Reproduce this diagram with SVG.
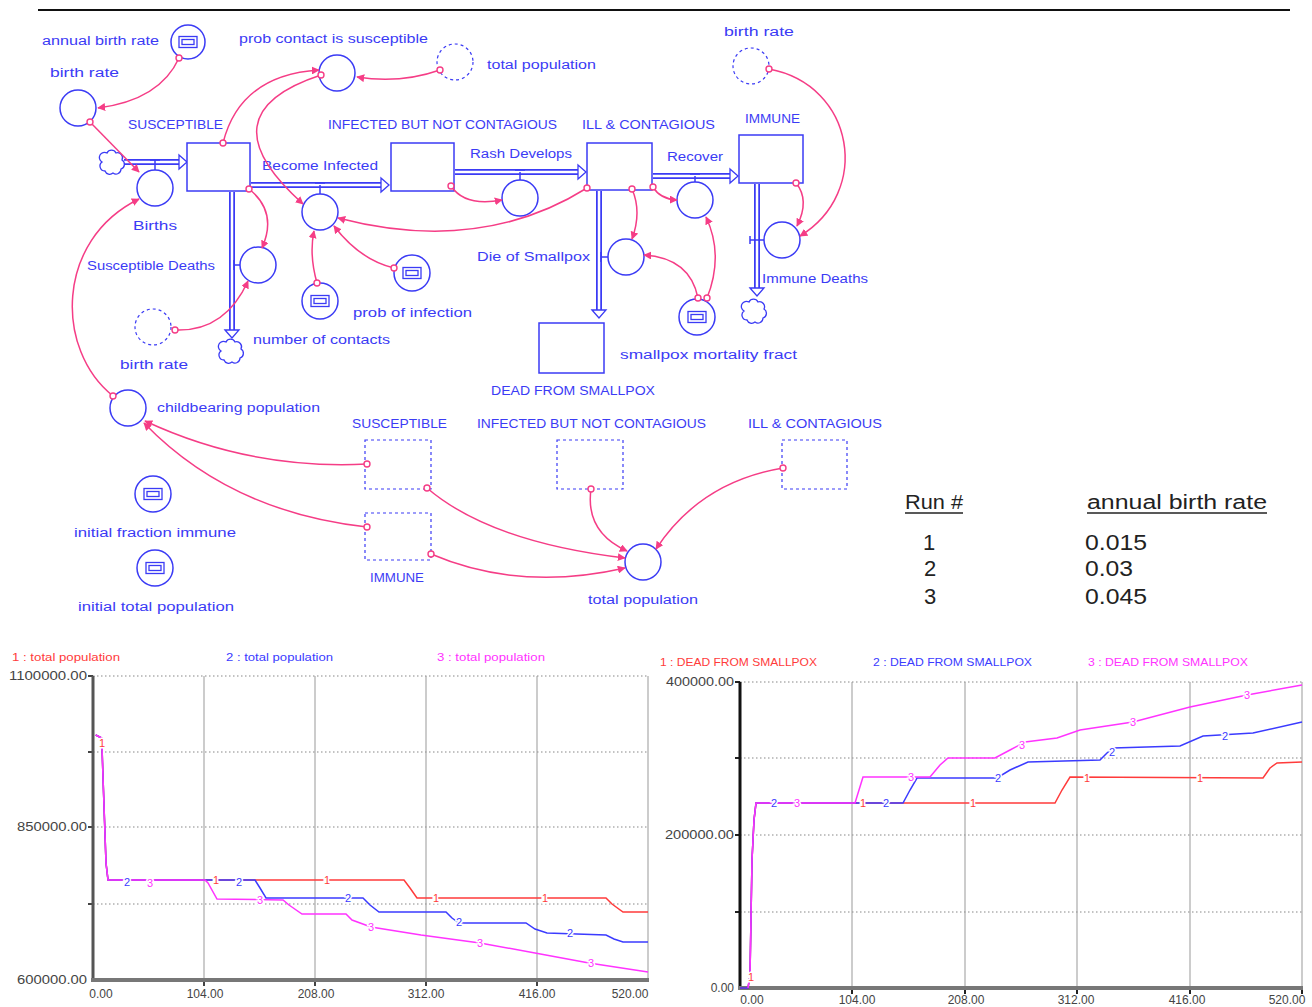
<svg xmlns="http://www.w3.org/2000/svg" width="1312" height="1007" viewBox="0 0 1312 1007">
<defs>
<style>
.lbl{font-family:"Liberation Sans",Arial,sans-serif;font-size:12.5px;fill:#3b3bf5}
.stock{fill:#fff;stroke:#3b3bf5;stroke-width:1.5}
.ghost{fill:none;stroke:#3b3bf5;stroke-width:1.2;stroke-dasharray:3,3}
.conv{fill:#fff;stroke:#3b3bf5;stroke-width:1.5}
.icon{fill:none;stroke:#3b3bf5;stroke-width:1.3}
.pipeo{fill:none;stroke:#3b3bf5;stroke-width:6}
.pipei{fill:none;stroke:#fff;stroke-width:2.5}
.valve{fill:none;stroke:#3b3bf5;stroke-width:1.5}
.fa{fill:#fff;stroke:#3b3bf5;stroke-width:1.3}
.cloud{fill:#fff;stroke:#3b3bf5;stroke-width:1.3}
.link{fill:none;stroke:#f53d86;stroke-width:1.5;marker-end:url(#ah)}
.orig{fill:#fff;stroke:#f53d86;stroke-width:1.4}
.grid{stroke:#999;stroke-width:1}
.dot{stroke:#888;stroke-width:1.2;stroke-dasharray:1.5,2.5}
.ax{font-family:"Liberation Sans",Arial,sans-serif;font-size:12px;fill:#444}
.ttl{font-family:"Liberation Sans",Arial,sans-serif;font-size:11px}
.cl{font-family:"Liberation Sans",Arial,sans-serif;font-size:11px;text-anchor:middle;stroke:#fff;stroke-width:3;paint-order:stroke}
.tab{font-family:"Liberation Sans",Arial,sans-serif;fill:#222}
.r1{stroke:#ff3b3b;fill:none;stroke-width:1.5}
.r2{stroke:#3b3bff;fill:none;stroke-width:1.5}
.r3{stroke:#ff33ff;fill:none;stroke-width:1.5}
.t1{fill:#ff3b3b}.t2{fill:#3b3bff}.t3{fill:#ff33ff}
</style>
<marker id="ah" viewBox="0 0 10 10" refX="9" refY="5" markerWidth="8" markerHeight="8" orient="auto" markerUnits="userSpaceOnUse">
<path d="M0,0 L10,5 L0,10 z" fill="#f53d86"/>
</marker>
<path id="cloudp" d="M-6,-10 a5,5 0 0,1 9,0 a5,5 0 0,1 6,7 a5,5 0 0,1 -1,9 a5,5 0 0,1 -8,4 a5,5 0 0,1 -8,-2 a5,5 0 0,1 -3,-9 a5,5 0 0,1 5,-9 z"/>
<g id="icon"><rect x="-9" y="-5.5" width="18" height="11" class="icon"/><rect x="-6" y="-2.5" width="12" height="5" class="icon"/></g>
</defs>
<rect width="1312" height="1007" fill="#fff"/>
<line x1="38" y1="10" x2="1290" y2="10" stroke="#111" stroke-width="2"/>

<!-- flows (pipes) -->
<g id="flows">
<path class="pipeo" d="M124,162 H181"/><path class="pipei" d="M124,162 H181"/>
<polygon class="fa" points="179,155 187,162 179,169"/>
<path class="pipeo" d="M251,185 H383"/><path class="pipei" d="M251,185 H383"/>
<polygon class="fa" points="381,178 389,185 381,192"/>
<path class="pipeo" d="M455,172 H580"/><path class="pipei" d="M455,172 H580"/>
<polygon class="fa" points="578,165 586,172 578,179"/>
<path class="pipeo" d="M653,176 H732"/><path class="pipei" d="M653,176 H732"/>
<polygon class="fa" points="730,169 738,176 730,183"/>
<path class="pipeo" d="M232,192 V332"/><path class="pipei" d="M232,192 V332"/>
<polygon class="fa" points="225,330 232,338 239,330"/>
<path class="pipeo" d="M599,191 V312"/><path class="pipei" d="M599,191 V312"/>
<polygon class="fa" points="592,310 599,318 606,310"/>
<path class="pipeo" d="M757,184 V290"/><path class="pipei" d="M757,184 V290"/>
<polygon class="fa" points="750,288 757,296 764,288"/>
</g>

<!-- stocks -->
<g id="susceptible"><rect class="stock" x="187" y="143" width="63" height="48"/><text class="lbl" x="128" y="129" textLength="95" lengthAdjust="spacingAndGlyphs">SUSCEPTIBLE</text></g>
<g id="infected"><rect class="stock" x="391" y="143" width="63" height="48"/><text class="lbl" x="328" y="129" textLength="229" lengthAdjust="spacingAndGlyphs">INFECTED BUT NOT CONTAGIOUS</text></g>
<g id="ill"><rect class="stock" x="587" y="143" width="65" height="47"/><text class="lbl" x="582" y="129" textLength="133" lengthAdjust="spacingAndGlyphs">ILL &amp; CONTAGIOUS</text></g>
<g id="immune"><rect class="stock" x="739" y="135" width="64" height="48"/><text class="lbl" x="745" y="123" textLength="55" lengthAdjust="spacingAndGlyphs">IMMUNE</text></g>
<g id="dead"><rect class="stock" x="539" y="323" width="65" height="50"/><text class="lbl" x="491" y="395" textLength="164" lengthAdjust="spacingAndGlyphs">DEAD FROM SMALLPOX</text></g>

<!-- clouds -->
<g id="source-cloud"><use href="#cloudp" class="cloud" transform="translate(113,163)"/></g>
<g id="sink-cloud-s"><use href="#cloudp" class="cloud" transform="translate(232,352)"/></g>
<g id="sink-cloud-imm"><use href="#cloudp" class="cloud" transform="translate(755,312)"/></g>

<!-- flow valves -->
<g id="births"><path class="valve" d="M150,160 H160 M155,160 V170"/><circle class="conv" cx="155" cy="188" r="18"/><text class="lbl" x="133" y="230" textLength="44" lengthAdjust="spacingAndGlyphs">Births</text></g>
<g id="become-infected"><path class="valve" d="M315,183 H325 M320,185 V194"/><circle class="conv" cx="320" cy="212" r="18"/><text class="lbl" x="262" y="170" textLength="116" lengthAdjust="spacingAndGlyphs">Become Infected</text></g>
<g id="rash-develops"><path class="valve" d="M515,170 H525 M520,172 V180"/><circle class="conv" cx="520" cy="198" r="18"/><text class="lbl" x="470" y="158" textLength="102" lengthAdjust="spacingAndGlyphs">Rash Develops</text></g>
<g id="recover"><path class="valve" d="M690,174 H700 M695,176 V182"/><circle class="conv" cx="695" cy="200" r="18"/><text class="lbl" x="667" y="161" textLength="56" lengthAdjust="spacingAndGlyphs">Recover</text></g>
<g id="susceptible-deaths"><path class="valve" d="M234,260 V270 M234,265 H240"/><circle class="conv" cx="258" cy="265" r="18"/><text class="lbl" x="87" y="270" textLength="128" lengthAdjust="spacingAndGlyphs">Susceptible Deaths</text></g>
<g id="die-of-smallpox"><path class="valve" d="M601,252 V262 M601,257 H608"/><circle class="conv" cx="626" cy="257" r="18"/><text class="lbl" x="477" y="261" textLength="113" lengthAdjust="spacingAndGlyphs">Die of Smallpox</text></g>
<g id="immune-deaths"><path class="valve" d="M750,240 H764 M750,236 V244"/><circle class="conv" cx="782" cy="240" r="18"/><text class="lbl" x="762" y="283" textLength="106" lengthAdjust="spacingAndGlyphs">Immune Deaths</text></g>

<!-- converters -->
<g id="annual-birth-rate"><circle class="conv" cx="188" cy="42" r="17"/><use href="#icon" transform="translate(188,42)"/><text class="lbl" x="42" y="45" textLength="117" lengthAdjust="spacingAndGlyphs">annual birth rate</text></g>
<g id="birth-rate"><circle class="conv" cx="78" cy="108" r="18"/><text class="lbl" x="50" y="77" textLength="69" lengthAdjust="spacingAndGlyphs">birth rate</text></g>
<g id="prob-contact"><circle class="conv" cx="337" cy="73" r="18"/><text class="lbl" x="239" y="43" textLength="189" lengthAdjust="spacingAndGlyphs">prob contact is susceptible</text></g>
<g id="ghost-total-population"><circle class="ghost" cx="455" cy="62" r="18"/><text class="lbl" x="487" y="69" textLength="109" lengthAdjust="spacingAndGlyphs">total population</text></g>
<g id="ghost-birth-rate-top"><circle class="ghost" cx="751" cy="66" r="18"/><text class="lbl" x="724" y="36" textLength="70" lengthAdjust="spacingAndGlyphs">birth rate</text></g>
<g id="ghost-birth-rate-low"><circle class="ghost" cx="153" cy="327" r="18"/><text class="lbl" x="120" y="369" textLength="68" lengthAdjust="spacingAndGlyphs">birth rate</text></g>
<g id="number-of-contacts"><circle class="conv" cx="320" cy="301" r="18"/><use href="#icon" transform="translate(320,301)"/><text class="lbl" x="253" y="344" textLength="137" lengthAdjust="spacingAndGlyphs">number of contacts</text></g>
<g id="prob-of-infection"><circle class="conv" cx="412" cy="273" r="18"/><use href="#icon" transform="translate(412,273)"/><text class="lbl" x="353" y="317" textLength="119" lengthAdjust="spacingAndGlyphs">prob of infection</text></g>
<g id="smallpox-mortality"><circle class="conv" cx="697" cy="317" r="18"/><use href="#icon" transform="translate(697,317)"/><text class="lbl" x="620" y="359" textLength="177" lengthAdjust="spacingAndGlyphs">smallpox mortality fract</text></g>
<g id="childbearing-population"><circle class="conv" cx="128" cy="408" r="18"/><text class="lbl" x="157" y="412" textLength="163" lengthAdjust="spacingAndGlyphs">childbearing population</text></g>
<g id="initial-fraction-immune"><circle class="conv" cx="153" cy="494" r="18"/><use href="#icon" transform="translate(153,494)"/><text class="lbl" x="74" y="537" textLength="162" lengthAdjust="spacingAndGlyphs">initial fraction immune</text></g>
<g id="initial-total-population"><circle class="conv" cx="155" cy="568" r="18"/><use href="#icon" transform="translate(155,568)"/><text class="lbl" x="78" y="611" textLength="156" lengthAdjust="spacingAndGlyphs">initial total population</text></g>
<g id="total-population"><circle class="conv" cx="643" cy="562" r="18"/><text class="lbl" x="588" y="604" textLength="110" lengthAdjust="spacingAndGlyphs">total population</text></g>

<!-- ghost stocks -->
<g id="ghost-susceptible"><rect class="ghost" x="365" y="440" width="66" height="49"/><text class="lbl" x="352" y="428" textLength="95" lengthAdjust="spacingAndGlyphs">SUSCEPTIBLE</text></g>
<g id="ghost-infected"><rect class="ghost" x="557" y="440" width="66" height="49"/><text class="lbl" x="477" y="428" textLength="229" lengthAdjust="spacingAndGlyphs">INFECTED BUT NOT CONTAGIOUS</text></g>
<g id="ghost-ill"><rect class="ghost" x="782" y="440" width="65" height="49"/><text class="lbl" x="748" y="428" textLength="134" lengthAdjust="spacingAndGlyphs">ILL &amp; CONTAGIOUS</text></g>
<g id="ghost-immune"><rect class="ghost" x="365" y="513" width="66" height="47"/><text class="lbl" x="370" y="582" textLength="54" lengthAdjust="spacingAndGlyphs">IMMUNE</text></g>

<!-- connectors -->
<g id="connectors">
<path class="link" d="M179,58 Q160,100 98,108"/><circle class="orig" cx="179" cy="58" r="3"/>
<path class="link" d="M90,122 L139,172"/><circle class="orig" cx="90" cy="122" r="3"/>
<path class="link" d="M223,143 Q240,75 319,70"/><circle class="orig" cx="223" cy="143" r="3"/>
<path class="link" d="M440,70 Q400,84 357,77"/><circle class="orig" cx="440" cy="70" r="3"/>
<path class="link" d="M321,75 Q202,114 303,204"/><circle class="orig" cx="321" cy="75" r="3"/>
<path class="link" d="M249,189 Q278,212 262,248"/><circle class="orig" cx="249" cy="189" r="3"/>
<path class="link" d="M175,330 Q225,332 248,281"/><circle class="orig" cx="175" cy="330" r="3"/>
<path class="link" d="M317,283 Q309,255 314,231"/><circle class="orig" cx="317" cy="283" r="3"/>
<path class="link" d="M394,268 Q360,260 334,226"/><circle class="orig" cx="394" cy="268" r="3"/>
<path class="link" d="M587,188 Q480,255 338,218"/><circle class="orig" cx="587" cy="188" r="3"/>
<path class="link" d="M451,186 Q465,207 502,200"/><circle class="orig" cx="451" cy="186" r="3"/>
<path class="link" d="M632,189 Q642,212 632,239"/><circle class="orig" cx="632" cy="189" r="3"/>
<path class="link" d="M653,187 Q660,199 677,200"/><circle class="orig" cx="653" cy="187" r="3"/>
<path class="link" d="M698,298 Q690,258 644,255"/><circle class="orig" cx="698" cy="298" r="3"/>
<path class="link" d="M707,298 Q724,255 706,217"/><circle class="orig" cx="707" cy="298" r="3"/>
<path class="link" d="M796,183 Q810,200 797,226"/><circle class="orig" cx="796" cy="183" r="3"/>
<path class="link" d="M769,69 C855,85 872,192 800,236"/><circle class="orig" cx="769" cy="69" r="3"/>
<path class="link" d="M113,396 C55,350 55,240 139,199"/><circle class="orig" cx="113" cy="396" r="3"/>
<path class="link" d="M367,464 Q250,470 145,421"/><circle class="orig" cx="367" cy="464" r="3"/>
<path class="link" d="M367,527 Q230,512 144,423"/><circle class="orig" cx="367" cy="527" r="3"/>
<path class="link" d="M427,488 Q490,542 625,558"/><circle class="orig" cx="427" cy="488" r="3"/>
<path class="link" d="M431,554 Q520,592 625,568"/><circle class="orig" cx="431" cy="554" r="3"/>
<path class="link" d="M591,489 Q585,532 627,551"/><circle class="orig" cx="591" cy="489" r="3"/>
<path class="link" d="M783,468 Q700,482 656,549"/><circle class="orig" cx="783" cy="468" r="3"/>
</g>

<!-- run table -->
<g id="run-table">
<text class="tab" x="905" y="509" font-size="20" textLength="58" lengthAdjust="spacingAndGlyphs">Run #</text>
<line x1="905" y1="513" x2="963" y2="513" stroke="#222" stroke-width="1.5"/>
<text class="tab" x="1087" y="509" font-size="20" textLength="180" lengthAdjust="spacingAndGlyphs">annual birth rate</text>
<line x1="1087" y1="513" x2="1267" y2="513" stroke="#222" stroke-width="1.5"/>
<g font-size="22">
<text class="tab" x="929" y="550" text-anchor="middle">1</text>
<text class="tab" x="930" y="576" text-anchor="middle">2</text>
<text class="tab" x="930" y="604" text-anchor="middle">3</text>
<text class="tab" x="1085" y="550" textLength="62" lengthAdjust="spacingAndGlyphs">0.015</text>
<text class="tab" x="1085" y="576" textLength="48" lengthAdjust="spacingAndGlyphs">0.03</text>
<text class="tab" x="1085" y="604" textLength="62" lengthAdjust="spacingAndGlyphs">0.045</text>
</g>
</g>

<!-- left chart -->
<g id="chart-total-population">
<text class="ttl t1" x="12" y="661" textLength="108" lengthAdjust="spacingAndGlyphs">1 : total population</text>
<text class="ttl t2" x="226" y="661" textLength="107" lengthAdjust="spacingAndGlyphs">2 : total population</text>
<text class="ttl t3" x="437" y="661" textLength="108" lengthAdjust="spacingAndGlyphs">3 : total population</text>
<g class="dot"><line x1="93" y1="676" x2="648" y2="676"/><line x1="93" y1="752" x2="648" y2="752"/><line x1="93" y1="827" x2="648" y2="827"/><line x1="93" y1="904" x2="648" y2="904"/></g>
<g class="grid"><line x1="204" y1="676" x2="204" y2="980"/><line x1="315" y1="676" x2="315" y2="980"/><line x1="426" y1="676" x2="426" y2="980"/><line x1="537" y1="676" x2="537" y2="980"/><line x1="648" y1="676" x2="648" y2="980"/></g>
<g stroke="#444" stroke-width="2"><line x1="88" y1="676" x2="93" y2="676"/><line x1="88" y1="752" x2="93" y2="752"/><line x1="88" y1="827" x2="93" y2="827"/><line x1="88" y1="904" x2="93" y2="904"/><line x1="204" y1="980" x2="204" y2="986"/><line x1="315" y1="980" x2="315" y2="986"/><line x1="426" y1="980" x2="426" y2="986"/><line x1="537" y1="980" x2="537" y2="986"/></g>
<line x1="93" y1="676" x2="93" y2="981" stroke="#555" stroke-width="3"/>
<line x1="91" y1="980" x2="649" y2="980" stroke="#777" stroke-width="4"/>
<text class="ax" x="87" y="680" text-anchor="end" textLength="78" lengthAdjust="spacingAndGlyphs">1100000.00</text>
<text class="ax" x="87" y="831" text-anchor="end" textLength="70" lengthAdjust="spacingAndGlyphs">850000.00</text>
<text class="ax" x="87" y="984" text-anchor="end" textLength="70" lengthAdjust="spacingAndGlyphs">600000.00</text>
<g class="ax" text-anchor="middle"><text x="101" y="998">0.00</text><text x="205" y="998">104.00</text><text x="316" y="998">208.00</text><text x="426" y="998">312.00</text><text x="537" y="998">416.00</text><text x="630" y="998">520.00</text></g>
<polyline class="r1" points="95.7,735 101.7,738 103,777 106,863 108,880 404,880 410,888 417,898 606,898 612,904 623,912 648,912"/>
<polyline class="r2" points="95.7,735 101.7,738 103,777 106,863 108,880 255,880 260,888 266,898 363,898 370,905 379,912 446,912 452,918 459,923 526,923 535,929 547,933 606,935 614,939 623,942 648,942"/>
<polyline class="r3" points="95.7,735 101.7,738 103,777 106,863 108,880 205,880 208,883 217,899 283,900 289,905 302,914 346,914 352,920 371,927 421,935 480,943 535,953 589,963 648,972"/>
<text class="cl t1" x="102" y="747">1</text>
<text class="cl t2" x="127" y="886">2</text><text class="cl t3" x="150" y="887">3</text>
<text class="cl t1" x="216" y="884">1</text><text class="cl t2" x="239" y="886">2</text><text class="cl t3" x="260" y="904">3</text>
<text class="cl t1" x="327" y="884">1</text><text class="cl t2" x="348" y="902">2</text><text class="cl t3" x="371" y="931">3</text>
<text class="cl t1" x="436" y="902">1</text><text class="cl t2" x="459" y="926">2</text><text class="cl t3" x="480" y="947">3</text>
<text class="cl t1" x="545" y="902">1</text><text class="cl t2" x="570" y="937">2</text><text class="cl t3" x="591" y="967">3</text>
</g>

<!-- right chart -->
<g id="chart-dead-from-smallpox">
<text class="ttl t1" x="660" y="666" textLength="157" lengthAdjust="spacingAndGlyphs">1 : DEAD FROM SMALLPOX</text>
<text class="ttl t2" x="873" y="666" textLength="159" lengthAdjust="spacingAndGlyphs">2 : DEAD FROM SMALLPOX</text>
<text class="ttl t3" x="1088" y="666" textLength="160" lengthAdjust="spacingAndGlyphs">3 : DEAD FROM SMALLPOX</text>
<g class="dot"><line x1="740" y1="682" x2="1302" y2="682"/><line x1="740" y1="758" x2="1302" y2="758"/><line x1="740" y1="835" x2="1302" y2="835"/><line x1="740" y1="912" x2="1302" y2="912"/></g>
<g class="grid"><line x1="852" y1="682" x2="852" y2="988"/><line x1="965" y1="682" x2="965" y2="988"/><line x1="1077" y1="682" x2="1077" y2="988"/><line x1="1190" y1="682" x2="1190" y2="988"/><line x1="1302" y1="682" x2="1302" y2="988"/></g>
<g stroke="#222" stroke-width="2"><line x1="735" y1="682" x2="740" y2="682"/><line x1="735" y1="758" x2="740" y2="758"/><line x1="735" y1="835" x2="740" y2="835"/><line x1="735" y1="912" x2="740" y2="912"/><line x1="852" y1="988" x2="852" y2="994"/><line x1="965" y1="988" x2="965" y2="994"/><line x1="1077" y1="988" x2="1077" y2="994"/><line x1="1190" y1="988" x2="1190" y2="994"/><line x1="1302" y1="988" x2="1302" y2="994"/></g>
<line x1="740" y1="682" x2="740" y2="989" stroke="#111" stroke-width="3"/>
<line x1="738" y1="988" x2="1303" y2="988" stroke="#777" stroke-width="4"/>
<text class="ax" x="734" y="686" text-anchor="end" textLength="68" lengthAdjust="spacingAndGlyphs">400000.00</text>
<text class="ax" x="734" y="839" text-anchor="end" textLength="69" lengthAdjust="spacingAndGlyphs">200000.00</text>
<text class="ax" x="734" y="992" text-anchor="end">0.00</text>
<g class="ax" text-anchor="middle"><text x="752" y="1004">0.00</text><text x="857" y="1004">104.00</text><text x="966" y="1004">208.00</text><text x="1076" y="1004">312.00</text><text x="1187" y="1004">416.00</text><text x="1287" y="1004">520.00</text></g>
<polyline class="r1" points="740,988 748,988 750,975 752,860 754,820 756,803 1055,803 1062,790 1070,777 1263,778 1270,768 1277,763 1302,762"/>
<polyline class="r2" points="740,988 748,988 750,975 752,860 754,820 756,803 903,803 910,790 917,778 997,778 1010,770 1028,762 1100,760 1107,753 1113,748 1180,746 1203,736 1253,733 1302,722"/>
<polyline class="r3" points="748,988 750,975 752,860 754,820 756,803 855,803 859,790 863,777 930,777 940,765 948,758 995,758 1010,750 1025,742 1057,738 1080,730 1133,722 1190,707 1247,695 1302,685"/>
<text class="cl t1" x="751" y="981">1</text>
<text class="cl t2" x="774" y="807">2</text><text class="cl t3" x="797" y="807">3</text>
<text class="cl t1" x="863" y="807">1</text><text class="cl t2" x="886" y="807">2</text><text class="cl t3" x="911" y="781">3</text>
<text class="cl t1" x="973" y="807">1</text><text class="cl t2" x="998" y="782">2</text><text class="cl t3" x="1022" y="749">3</text>
<text class="cl t1" x="1087" y="782">1</text><text class="cl t2" x="1112" y="756">2</text><text class="cl t3" x="1133" y="726">3</text>
<text class="cl t1" x="1200" y="782">1</text><text class="cl t2" x="1225" y="740">2</text><text class="cl t3" x="1247" y="699">3</text>
</g>
</svg>
